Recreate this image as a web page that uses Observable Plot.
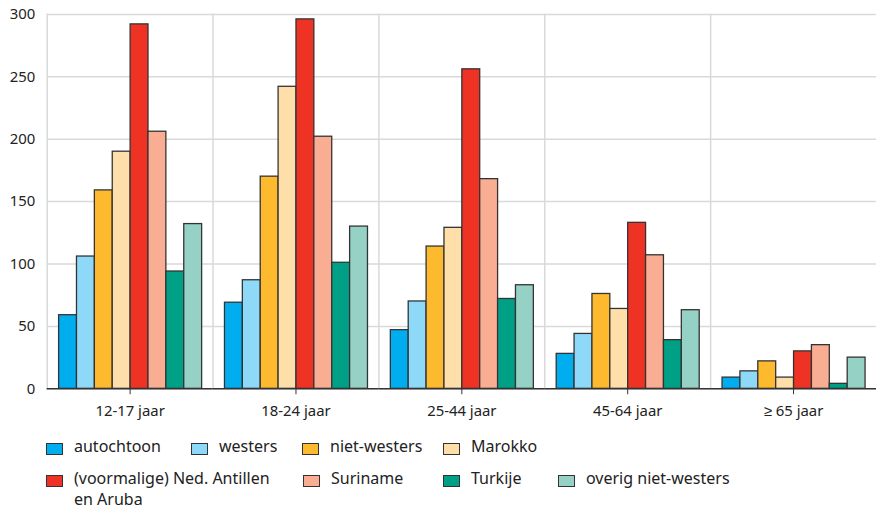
<!DOCTYPE html>
<html><head><meta charset="utf-8">
<script src="https://cdn.jsdelivr.net/npm/d3@7"></script>
<script src="https://cdn.jsdelivr.net/npm/@observablehq/plot@0.6"></script>
<style>
body{margin:0;background:#fff;overflow:hidden;font-family:"Noto Sans",sans-serif;}
#wrap{position:relative;width:876px;height:512px;overflow:hidden;}
#chart{position:absolute;left:0;top:0;}
.item{position:absolute;display:flex;align-items:flex-start;font-size:16px;line-height:21px;color:#222;}
.sw{width:15px;height:10px;border:1.2px solid #333;margin-top:7px;flex:none;}
.lab{margin-left:11px;white-space:nowrap;}
</style></head><body><div id="wrap"><div id="chart"></div><div id="legend"></div></div>
<script>
const groups = ["12-17 jaar", "18-24 jaar", "25-44 jaar", "45-64 jaar", "≥ 65 jaar"];
const series = ["autochtoon", "westers", "niet-westers", "Marokko", "(voormalige) Ned. Antillen en Aruba", "Suriname", "Turkije", "overig niet-westers"];
const colors = ["#00aeef", "#8ed8f8", "#fdba2e", "#fedfa9", "#ee3325", "#f9ae93", "#00a086", "#96d1c6"];
const yTicks = [0, 50, 100, 150, 200, 250, 300];

const autochtoon   = [59, 69, 47, 28, 9];
const westers      = [106, 87, 70, 44, 14];
const nietWesters  = [159, 170, 114, 76, 22];
const marokko      = [190, 242, 129, 64, 9];
const antillen     = [292, 296, 256, 133, 30];
const suriname     = [206, 202, 168, 107, 35];
const turkije      = [94, 101, 72, 39, 4];
const overig       = [132, 130, 83, 63, 25];

const seriesValues = [autochtoon, westers, nietWesters, marokko, antillen, suriname, turkije, overig];
const data = [];
groups.forEach((g, gi) => series.forEach((s, si) => data.push({group: g, series: s, value: seriesValues[si][gi]})));

const chart = Plot.plot({
  width: 882, height: 428,
  marginLeft: 47, marginRight: 0, marginTop: 14, marginBottom: 37,
  style: {fontFamily: "'Noto Sans', sans-serif", fontSize: "15px", color: "#222", overflow: "visible", background: "transparent"},
  fx: {domain: groups, padding: 0, label: null},
  x: {domain: series, paddingInner: 0, paddingOuter: 0.45, axis: null},
  y: {domain: [0, 300], label: null},
  color: {domain: series, range: colors},
  marks: [
    Plot.gridY(yTicks, {stroke: "#d9d9d9", strokeOpacity: 1, strokeWidth: 1.5}),
    Plot.frame({anchor: "left", stroke: "#d9d9d9", strokeWidth: 1.5}),
    Plot.barY(data, {fx: "group", x: "series", y: "value", fill: "series", stroke: "#333", strokeWidth: 1.3}),
    Plot.ruleY([0], {stroke: "#333", strokeWidth: 1.5}),
    Plot.axisY(yTicks, {tickSize: 0, tickPadding: 12, label: null}),
    Plot.axisFx({anchor: "bottom", tickSize: 6, tickPadding: 11, label: null, stroke: "#333"})
  ]
});
document.getElementById("chart").appendChild(chart);

// legend
const slots = [[46, 436], [191, 436], [302, 436], [443, 436], [46, 468], [303, 468], [443, 468], [558, 468]];
const legend = document.getElementById("legend");
series.forEach((s, i) => {
  const it = document.createElement("div");
  it.className = "item";
  it.style.left = slots[i][0] + "px";
  it.style.top = slots[i][1] + "px";
  const sw = document.createElement("div");
  sw.className = "sw";
  sw.style.background = colors[i];
  const lab = document.createElement("div");
  lab.className = "lab";
  if (s === "(voormalige) Ned. Antillen en Aruba") {
    lab.innerHTML = "(voormalige) Ned. Antillen<br>en Aruba";
  } else lab.textContent = s;
  it.appendChild(sw); it.appendChild(lab);
  legend.appendChild(it);
});
</script></body></html>
